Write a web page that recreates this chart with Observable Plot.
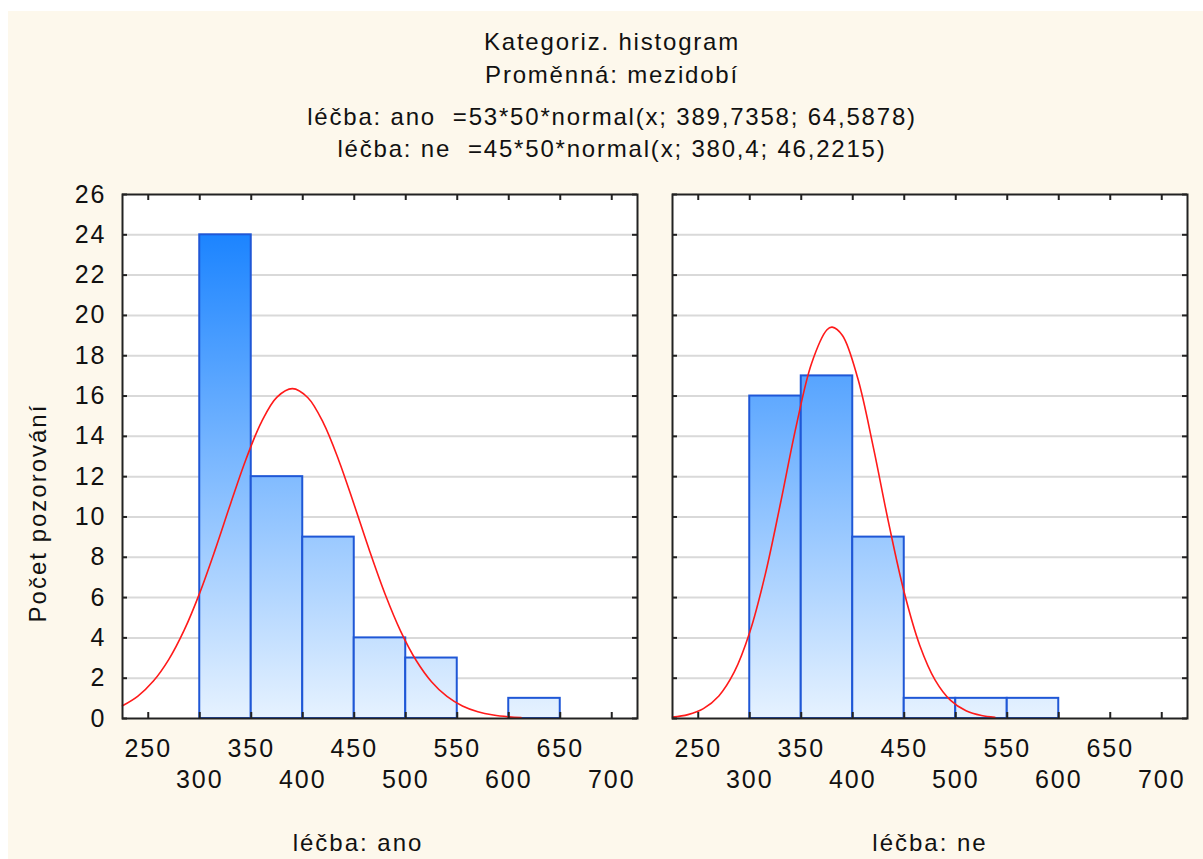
<!DOCTYPE html>
<html><head><meta charset="utf-8">
<script src="https://cdn.jsdelivr.net/npm/d3@7"></script>
<script src="https://cdn.jsdelivr.net/npm/@observablehq/plot@0.6"></script>
<style>
body{margin:0;background:#fff;width:1203px;height:859px;position:relative;overflow:hidden;font-family:"Liberation Sans",Arial,sans-serif;color:#111;}
#bg{position:absolute;left:8px;top:11px;width:1195px;height:848px;background:#fdf8ec;}
#chart{position:absolute;left:0;top:0;}
.t{position:absolute;left:612px;transform:translateX(-50%);white-space:pre;font-size:24px;line-height:24px;letter-spacing:1.8px;}
#ylab{position:absolute;left:38px;top:513px;transform:translate(-50%,-50%) rotate(-90deg);white-space:nowrap;font-size:24px;letter-spacing:2px;}
</style></head>
<body>
<div id="bg"></div>
<div id="chart"></div>
<div class="t" style="top:30px">Kategoriz. histogram</div>
<div class="t" style="top:63px">Proměnná: mezidobí</div>
<div class="t" style="top:105px">léčba: ano  =53*50*normal(x; 389,7358; 64,5878)</div>
<div class="t" style="top:137px">léčba: ne  =45*50*normal(x; 380,4; 46,2215)</div>
<div id="ylab">Počet pozorování</div>
<script>
// categories
const groups = ["ano", "ne"];
const groupLabels = ["léčba: ano", "léčba: ne"];
// bins
const binLow  = [300, 350, 400, 450, 500, 550, 600];
const binHigh = [350, 400, 450, 500, 550, 600, 650];
const anoCounts = [24, 12, 9, 4, 3, 0, 1];
const neCounts  = [16, 17, 9, 1, 1, 1, 0];
// fitted normal curves
const anoCurveX = [225,240,255,270,285,300,315,330,345,360,375,390,405,420,435,450,465,480,495,510,525,540,555,570,585,600,612];
const anoCurveY = [0.633,1.114,1.857,2.935,4.395,6.235,8.379,10.671,12.877,14.722,15.947,16.368,15.917,14.667,12.804,10.592,8.302,6.165,4.338,2.892,1.827,1.093,0.620,0.333,0.170,0.082,0.044];
const neCurveX = [225,240,255,270,285,300,315,330,345,360,375,380,390,405,420,435,450,465,480,495,510,525,538];
const neCurveY = [0.068,0.193,0.490,1.121,2.308,4.278,7.137,10.716,14.484,17.618,19.288,19.419,19.006,16.855,13.454,9.666,6.250,3.637,1.906,0.898,0.381,0.146,0.058];
// ticks
const xTicks = [250,300,350,400,450,500,550,600,650,700];
const xTicksRow1 = [250,350,450,550,650];
const xTicksRow2 = [300,400,500,600,700];
const yTicks = [0,2,4,6,8,10,12,14,16,18,20,22,24,26];
const gridTicks = [2,4,6,8,10,12,14,16,18,20,22,24];

const bars = [];
binLow.forEach((lo, i) => {
  bars.push({group: "ano", lo, hi: binHigh[i], count: anoCounts[i]});
  bars.push({group: "ne", lo, hi: binHigh[i], count: neCounts[i]});
});
const curve = [
  ...anoCurveX.map((x, i) => ({group: "ano", x, y: anoCurveY[i]})),
  ...neCurveX.map((x, i) => ({group: "ne", x, y: neCurveY[i]}))
];
const labels = groups.map((g, i) => ({group: g, label: groupLabels[i]}));

const defs = (index, scales, values, dims) => {
  const d = d3.create("svg:defs");
  const lg = d.append("linearGradient").attr("id", "barGrad")
    .attr("gradientUnits", "userSpaceOnUse")
    .attr("x1", 0).attr("x2", 0)
    .attr("y1", dims.marginTop).attr("y2", dims.height - dims.marginBottom);
  lg.append("stop").attr("offset", 0).attr("stop-color", "#0b7bff");
  lg.append("stop").attr("offset", 1).attr("stop-color", "#e6f2ff");
  return d.node();
};

const tickColor = "#222";
const chart = Plot.plot({
  width: 1203, height: 859,
  marginTop: 194, marginBottom: 141, marginLeft: 121, marginRight: 15,
  style: {background: "transparent", fontFamily: "Liberation Sans, Arial, sans-serif", fontSize: "25px", letterSpacing: "2px", color: "#111"},
  x: {domain: [225, 725]},
  y: {domain: [0, 26]},
  fx: {domain: groups, padding: 0.063, axis: null},
  marks: [
    Plot.frame({fill: "white"}),
    Plot.ruleY(gridTicks, {y: d => d, stroke: "#d9d9d9", strokeWidth: 2}),
    defs,
    Plot.rect(bars, {filter: d => d.count > 0, fx: "group", x1: "lo", x2: "hi", y1: 0, y2: "count",
      fill: "url(#barGrad)", stroke: "#1f57d6", strokeWidth: 2}),
    Plot.line(curve, {fx: "group", x: "x", y: "y", z: "group", stroke: "#ff1a1a", strokeWidth: 1.6, curve: "catmull-rom"}),
    Plot.frame({stroke: tickColor, strokeWidth: 2}),
    Plot.tickX(xTicks, {x: d => d, insetTop: 518, stroke: tickColor, strokeWidth: 2}),
    Plot.tickX(xTicks, {x: d => d, insetBottom: 518, stroke: tickColor, strokeWidth: 2}),
    Plot.tickY(yTicks, {y: d => d, insetRight: 510, stroke: tickColor, strokeWidth: 2}),
    Plot.tickY(yTicks, {y: d => d, insetLeft: 510, stroke: tickColor, strokeWidth: 2}),
    Plot.axisX(xTicksRow1, {tickSize: 0, tickPadding: 21, label: null}),
    Plot.axisX(xTicksRow2, {tickSize: 0, tickPadding: 52, label: null}),
    Plot.axisY(yTicks, {tickSize: 0, tickPadding: 16, label: null}),
    Plot.text(labels, {filter: d => d.group === "ano", fx: "group", text: "label", frameAnchor: "bottom", dy: 132, dx: -22, lineAnchor: "bottom", fontSize: 24}),
    Plot.text(labels, {filter: d => d.group === "ne", fx: "group", text: "label", frameAnchor: "bottom", dy: 132, lineAnchor: "bottom", fontSize: 24})
  ]
});
document.getElementById("chart").appendChild(chart);
</script>
</body></html>
